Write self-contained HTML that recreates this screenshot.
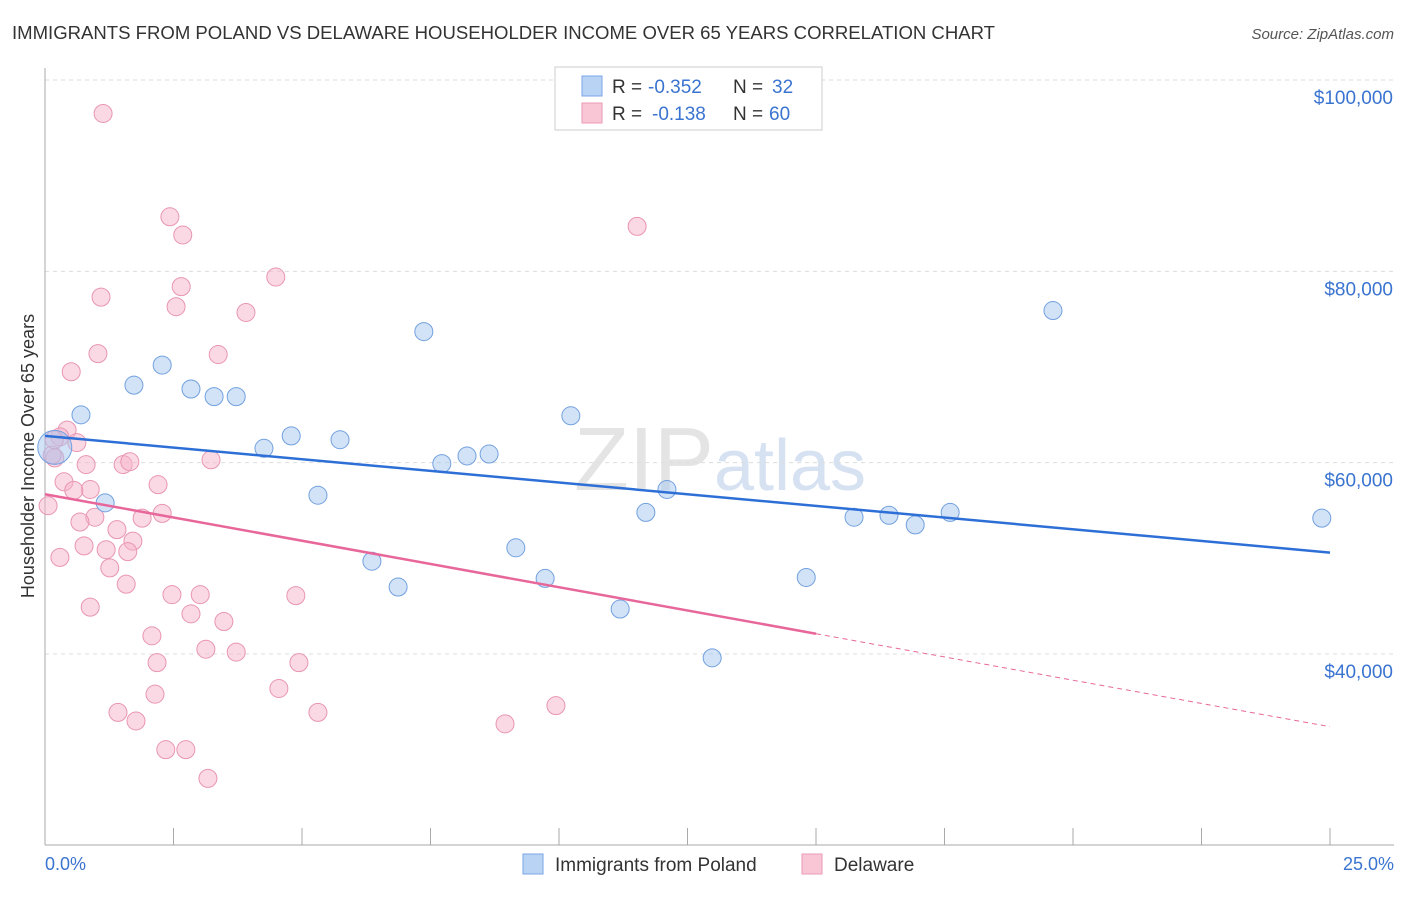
<!DOCTYPE html>
<html><head><meta charset="utf-8"><style>
body{margin:0;background:#fff;font-family:"Liberation Sans",sans-serif}
svg text{font-family:"Liberation Sans",sans-serif}
</style></head><body>
<svg id="c" width="1406" height="892">
<text x="12" y="39" font-size="18" fill="#333" textLength="983" lengthAdjust="spacingAndGlyphs">IMMIGRANTS FROM POLAND VS DELAWARE HOUSEHOLDER INCOME OVER 65 YEARS CORRELATION CHART</text>
<text x="1394" y="39" font-size="15" fill="#555" text-anchor="end" font-style="italic">Source: ZipAtlas.com</text>
<text x="720" y="490" font-size="90" fill="#e4e4e4" text-anchor="middle" font-family="Liberation Serif">ZIP<tspan fill="#d6e2f2" font-family="Liberation Sans" font-size="72">atlas</tspan></text>
<g id="grid"></g><g id="axes"></g><g id="pts"></g><g id="trend"></g>
<text transform="translate(34,456) rotate(-90)" font-size="18" fill="#333" text-anchor="middle">Householder Income Over 65 years</text>
<text x="45" y="870" font-size="18" fill="#3a74d0">0.0%</text>
<text x="1394" y="870" font-size="18" fill="#3a74d0" text-anchor="end">25.0%</text>
<g>
<rect x="555" y="67" width="267" height="63" fill="#fff" stroke="#ccc"/>
<rect x="582" y="76" width="20" height="20" fill="#b9d3f5" stroke="#7aa6e6"/>
<rect x="582" y="103" width="20" height="20" fill="#f9c6d6" stroke="#eb9ab6"/>
<text x="612" y="93" font-size="19" fill="#333">R =</text><text x="648" y="93" font-size="19" fill="#3a74d0">-0.352</text>
<text x="733" y="93" font-size="19" fill="#333">N =</text><text x="772" y="93" font-size="19" fill="#3a74d0">32</text>
<text x="612" y="120" font-size="19" fill="#333">R =</text><text x="652" y="120" font-size="19" fill="#3a74d0">-0.138</text>
<text x="733" y="120" font-size="19" fill="#333">N =</text><text x="769" y="120" font-size="19" fill="#3a74d0">60</text>
</g>
<g>
<rect x="523" y="854" width="20" height="20" fill="#b9d3f5" stroke="#7aa6e6"/>
<text x="555" y="871" font-size="19" fill="#333">Immigrants from Poland</text>
<rect x="802" y="854" width="20" height="20" fill="#f9c6d6" stroke="#eb9ab6"/>
<text x="834" y="871" font-size="19" fill="#333">Delaware</text>
</g>
</svg>
<script>
const yTicks=[40000,60000,80000,100000];
const yTickLabels=["$40,000","$60,000","$80,000","$100,000"];
const blueX=[0.70,1.17,1.73,2.28,2.84,3.29,3.72,4.26,4.79,5.31,5.74,6.36,6.87,7.37,7.72,8.21,8.64,9.16,9.73,10.23,11.19,11.69,12.10,12.98,14.81,15.74,16.42,16.93,17.61,19.61,24.84,0.19];
const blueY=[65.0,55.8,68.1,70.2,67.7,66.9,66.9,61.5,62.8,56.6,62.4,49.7,47.0,73.7,59.9,60.7,60.9,51.1,47.9,64.9,44.7,54.8,57.2,39.6,48.0,54.3,54.5,53.5,54.8,75.9,54.2,61.6];
const pinkX=[1.13,2.43,2.68,11.52,4.49,1.09,2.65,2.55,3.91,1.03,3.37,0.51,0.43,0.29,0.62,0.19,0.14,0.80,1.52,1.65,3.23,0.37,2.20,0.88,0.56,0.06,0.97,0.68,1.89,2.28,1.40,1.71,0.76,1.19,1.61,0.29,1.26,1.58,2.47,3.02,4.88,0.88,2.84,3.48,2.08,3.13,3.72,2.18,4.94,4.55,2.14,1.42,5.31,9.94,1.77,8.95,2.35,2.74,3.17,0.18];
const pinkY=[96.5,85.7,83.8,84.7,79.4,77.3,78.4,76.3,75.7,71.4,71.3,69.5,63.4,62.7,62.1,60.5,60.8,59.8,59.8,60.1,60.3,58.0,57.7,57.2,57.1,55.5,54.3,53.8,54.2,54.7,53.0,51.8,51.3,50.9,50.7,50.1,49.0,47.3,46.2,46.2,46.1,44.9,44.2,43.4,41.9,40.5,40.2,39.1,39.1,36.4,35.8,33.9,33.9,34.6,33.0,32.7,30.0,30.0,27.0,62.4];
const blueTrend=[62.8,50.6];
const pinkTrend=[56.7,32.4];
const NS="http://www.w3.org/2000/svg";
const X=v=>45+v*51.4, Y=v=>654-(v-40000)*0.009567;
function mk(t,a,p){const e=document.createElementNS(NS,t);for(const k in a)e.setAttribute(k,a[k]);p.appendChild(e);return e;}
const grid=document.getElementById('grid'),axes=document.getElementById('axes');
yTicks.forEach((t,i)=>{
 const g=mk('line',{x1:45,x2:1394,y1:Y(t),y2:Y(t),stroke:'#ddd','stroke-dasharray':'4,4'},grid);
 
 
 const l=mk('text',{x:1393,y:Y(t)+24,'font-size':19,fill:'#3a74d0','text-anchor':'end'},grid);
 l.textContent=yTickLabels[i];
 
 
});
mk('line',{x1:45,x2:45,y1:68,y2:845,stroke:'#aaa'},axes);
mk('line',{x1:45,x2:1394,y1:845,y2:845,stroke:'#aaa'},axes);
for(let i=1;i<=10;i++){mk('line',{x1:X(i*2.5),x2:X(i*2.5),y1:828,y2:845,stroke:'#aaa'},axes);}
const pts=document.getElementById('pts');
pinkX.forEach((x,i)=>{
 const c=mk('circle',{cx:X(x),cy:Y(pinkY[i]*1000),r:9,fill:'rgba(246,180,202,0.5)',stroke:'#e995b3','stroke-width':1},pts);
 
 
});
blueX.forEach((x,i)=>{
 const c=mk('circle',{cx:X(x),cy:Y(blueY[i]*1000),r:i==31?17:9,fill:'rgba(165,198,240,0.5)',stroke:'#72a1df','stroke-width':1},pts);
 
 
});
const tr=document.getElementById('trend');
const bl=mk('line',{x1:X(0),y1:Y(blueTrend[0]*1000),x2:X(25),y2:Y(blueTrend[1]*1000),stroke:'#2d6fd6','stroke-width':2.5},tr);


const pm=v=>pinkTrend[0]+(pinkTrend[1]-pinkTrend[0])*v/25;
const pl=mk('line',{x1:X(0),y1:Y(pm(0)*1000),x2:X(15),y2:Y(pm(15)*1000),stroke:'#e8679a','stroke-width':2.5},tr);


const pd=mk('line',{x1:X(15),y1:Y(pm(15)*1000),x2:X(25),y2:Y(pm(25)*1000),stroke:'#e8679a','stroke-width':1,'stroke-dasharray':'5,4'},tr);


</script>
</body></html>
